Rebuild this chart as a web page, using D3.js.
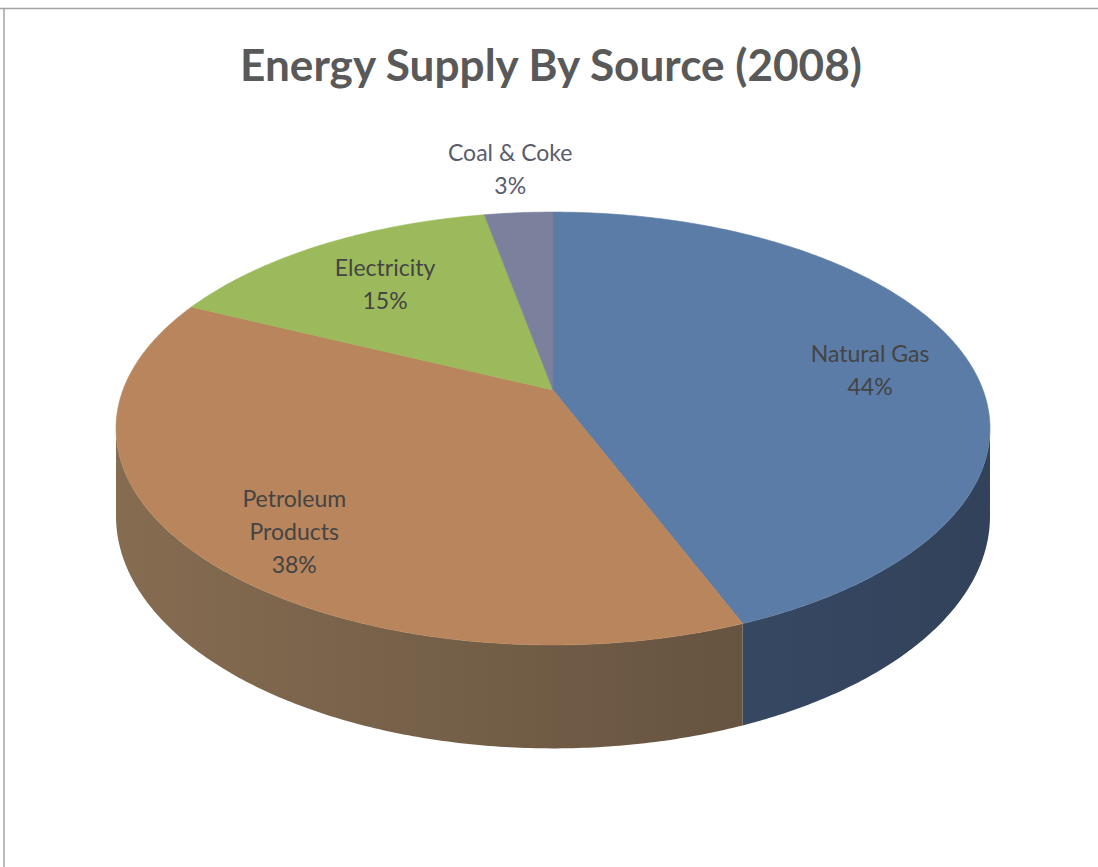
<!DOCTYPE html>
<html>
<head>
<meta charset="utf-8">
<script src="https://cdn.jsdelivr.net/npm/d3@7"></script>
<style>
  html, body { margin: 0; padding: 0; background: #fff; }
  svg { display: block; }
</style>
</head>
<body>
<svg id="chart" width="1098" height="867"></svg>
<script>
// Energy supply shares, clockwise from 12 o'clock
const categories = ["Natural Gas", "Petroleum Products", "Electricity", "Coal & Coke"];
const values = [44, 38, 15, 3];
const labelLines = [["Natural Gas", "44%"], ["Petroleum", "Products", "38%"], ["Electricity", "15%"], ["Coal & Coke", "3%"]];
const titleText = "Energy Supply By Source (2008)";

// styling
const topColors  = ["#5b7ca6", "#b8855c", "#9cba5b", "#7b809c"];
const sideLight  = ["#43567a", "#856c51", "#6f8a3c", "#555a72"];
const sideDark   = ["#32425a", "#5a4a3a", "#55692e", "#40445a"];
const labelRadius = [0.77, 0.75, 0.7, 1.3];
const labelDrop   = [10, 24, 0, 0];

const svg = d3.select("#chart");
const W = 1098, H = 867;

// frame
svg.append("line").attr("x1", 0).attr("x2", W).attr("y1", 8.5).attr("y2", 8.5)
  .attr("stroke", "#a4a4a4").attr("stroke-width", 1.5);
svg.append("line").attr("x1", 4).attr("x2", 4).attr("y1", 8).attr("y2", H)
  .attr("stroke", "#a4a4a4").attr("stroke-width", 1.5);

// perspective projection of the tilted disc
const cx = 553, cy = 390, ax = 430, by = 209.6, k = 0.178, depth = 85;
function project(theta, r, drop) {
  const X = r * Math.sin(theta), Z = r * Math.cos(theta);
  const w = 1 + k * Z;
  return [cx + ax * X / w, cy - by * Z / w + (drop || 0) / w];
}

const pie = d3.pie().sort(null).value(d => d)(values);
const arcPts = (a0, a1, drop) => {
  const n = Math.max(2, Math.ceil((a1 - a0) / 0.01));
  return d3.range(n + 1).map(i => project(a0 + (a1 - a0) * i / n, 1, drop));
};
const line = d3.line();

const defs = svg.append("defs");
pie.forEach((p, i) => {
  const g = defs.append("linearGradient").attr("id", "side" + i)
    .attr("gradientUnits", "userSpaceOnUse")
    .attr("x1", cx - ax).attr("x2", cx + ax).attr("y1", 0).attr("y2", 0);
  g.append("stop").attr("offset", "0%").attr("stop-color", sideLight[i]);
  g.append("stop").attr("offset", "100%").attr("stop-color", sideDark[i]);
});

// visible side wall lies between the two silhouette angles
const thR = Math.acos(-k), thL = 2 * Math.PI - thR;
const sides = svg.append("g");
pie.forEach((p, i) => {
  const a0 = Math.max(p.startAngle, thR), a1 = Math.min(p.endAngle, thL);
  if (a1 <= a0) return;
  const pts = arcPts(a0, a1, 0).concat(arcPts(a0, a1, depth).reverse());
  sides.append("path").attr("d", line(pts) + "Z").attr("fill", `url(#side${i})`);
});

// top faces
const tops = svg.append("g");
pie.forEach((p, i) => {
  const pts = [[cx, cy]].concat(arcPts(p.startAngle, p.endAngle, 0));
  tops.append("path").attr("d", line(pts) + "Z").attr("fill", topColors[i])
    .attr("stroke", topColors[i]).attr("stroke-width", 0.6);
});

// data labels
const font = "Lato, 'Open Sans', sans-serif";
const lab = svg.append("g").attr("font-family", font).attr("font-size", 23)
  .attr("fill", "#444444").attr("text-anchor", "middle");
pie.forEach((p, i) => {
  const mid = (p.startAngle + p.endAngle) / 2;
  const [lx, ly0] = project(mid, labelRadius[i], 0);
  const ly = ly0 + labelDrop[i];
  const lines = labelLines[i];
  const lh = 33;
  const t = lab.append("text").attr("x", lx).attr("y", ly - (lines.length - 1) * lh / 2 + 8);
  lines.forEach((s, j) => t.append("tspan").attr("x", lx).attr("dy", j ? lh : 0).text(s));
  if (i === 3) t.attr("fill", "#5a5c6c");
});

// title
const title = svg.append("text").attr("x", 551).attr("y", 81)
  .attr("text-anchor", "middle").attr("font-family", font).attr("font-weight", 700)
  .attr("font-size", 42).attr("fill", "#595959").text(titleText);
const tw = title.node().getComputedTextLength();
title.attr("font-size", 42 * 622 / tw);
</script>
</body>
</html>
